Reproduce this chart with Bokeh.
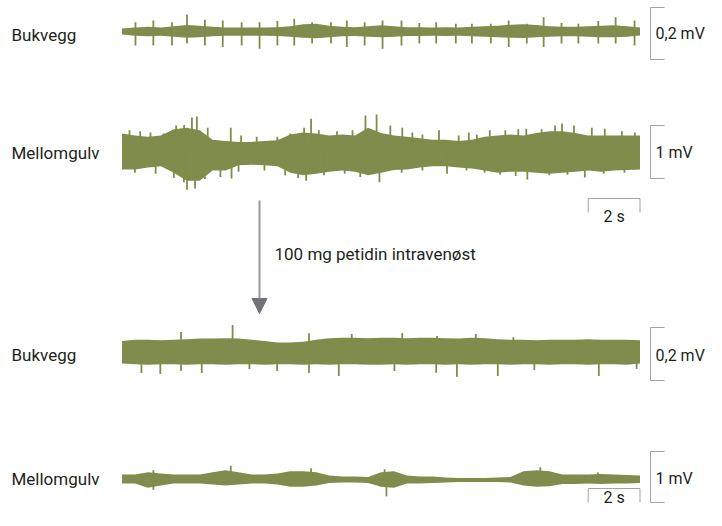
from bokeh.plotting import figure
from bokeh.models import Range1d, Label, Arrow, NormalHead
from bokeh.embed import file_html
from bokeh.resources import INLINE

# ---------------- data ----------------
# envelope sampling times (s)
time_s = [0.0, 0.5, 1.0, 1.5, 2.0, 2.5, 3.0, 3.5, 4.0, 4.5, 5.0, 5.5, 6.0, 6.5,
          7.0, 7.5, 8.0, 8.5, 9.0, 9.5, 10.0, 10.5, 11.0, 11.5, 12.0, 12.5,
          13.0, 13.5, 14.0, 14.5, 15.0, 15.5, 16.0, 16.5, 17.0, 17.5, 18.0,
          18.5, 19.0, 19.5, 20.0]

# Trace 1: Bukvegg, before (mV)
buk1_upper = [0.012, 0.015, 0.018, 0.015, 0.020, 0.025, 0.022, 0.018, 0.015, 0.015,
              0.015, 0.015, 0.016, 0.020, 0.028, 0.030, 0.022, 0.018, 0.016, 0.020,
              0.024, 0.020, 0.016, 0.016, 0.015, 0.016, 0.015, 0.018, 0.020, 0.022,
              0.026, 0.028, 0.025, 0.020, 0.018, 0.018, 0.020, 0.022, 0.024, 0.020, 0.015]
buk1_lower = [-0.012, -0.016, -0.018, -0.016, -0.020, -0.024, -0.022, -0.018, -0.016, -0.016,
              -0.016, -0.016, -0.017, -0.020, -0.024, -0.026, -0.022, -0.018, -0.017, -0.020,
              -0.022, -0.020, -0.017, -0.017, -0.016, -0.017, -0.016, -0.018, -0.020, -0.022,
              -0.024, -0.025, -0.022, -0.020, -0.018, -0.018, -0.020, -0.022, -0.022, -0.020, -0.015]
buk1_spike_t = [0.52, 1.21, 1.93, 2.51, 3.20, 3.89, 4.62, 5.31, 6.00, 6.65, 7.34, 8.07, 8.68,
                9.37, 10.06, 10.79, 11.48, 12.13, 12.89, 13.51, 14.24, 14.93, 15.63, 16.28,
                16.97, 17.62, 18.39, 19.06, 19.79]
buk1_spike_up = [0.036, 0.042, 0.036, 0.065, 0.045, 0.042, 0.036, 0.036, 0.040, 0.049, 0.036,
                 0.036, 0.042, 0.036, 0.042, 0.042, 0.033, 0.036, 0.030, 0.030, 0.030, 0.042,
                 0.030, 0.055, 0.033, 0.030, 0.040, 0.055, 0.042]
buk1_spike_dn = [-0.054, -0.054, -0.054, -0.046, -0.054, -0.060, -0.054, -0.066, -0.054, -0.054,
                 -0.046, -0.046, -0.060, -0.054, -0.066, -0.054, -0.046, -0.046, -0.046, -0.046,
                 -0.046, -0.060, -0.046, -0.060, -0.046, -0.046, -0.046, -0.046, -0.054]

# Trace 2: Mellomgulv, before (mV)
mel1_upper = [0.34, 0.30, 0.28, 0.30, 0.42, 0.45, 0.40, 0.22, 0.20, 0.18, 0.18, 0.20, 0.21,
              0.32, 0.36, 0.34, 0.30, 0.32, 0.30, 0.45, 0.35, 0.30, 0.28, 0.25, 0.22, 0.22,
              0.20, 0.22, 0.28, 0.30, 0.32, 0.30, 0.35, 0.38, 0.38, 0.35, 0.30, 0.30, 0.30,
              0.30, 0.30]
mel1_lower = [-0.34, -0.34, -0.30, -0.28, -0.40, -0.55, -0.55, -0.36, -0.36, -0.26, -0.25,
              -0.26, -0.28, -0.40, -0.45, -0.42, -0.38, -0.36, -0.38, -0.45, -0.40, -0.35,
              -0.34, -0.30, -0.28, -0.28, -0.30, -0.32, -0.36, -0.40, -0.38, -0.38, -0.40,
              -0.42, -0.40, -0.38, -0.36, -0.38, -0.36, -0.35, -0.34]
mel1_up_t = [0.29, 0.7, 1.1, 1.6, 2.09, 2.4, 2.70, 2.89, 3.31, 4.20, 4.6, 5.2, 6.0, 6.5, 7.03,
             7.30, 7.6, 8.3, 8.9, 9.4, 9.83, 10.36, 10.82, 11.21, 11.6, 12.24, 13.0, 13.39,
             13.7, 14.2, 14.8, 15.3, 15.61, 16.2, 16.72, 16.99, 17.45, 18.14, 18.64, 19.3, 19.8]
mel1_up_v = [0.40, 0.38, 0.36, 0.34, 0.49, 0.50, 0.64, 0.66, 0.45, 0.45, 0.30, 0.28, 0.28,
             0.34, 0.45, 0.62, 0.40, 0.38, 0.40, 0.68, 0.70, 0.49, 0.45, 0.36, 0.32, 0.40,
             0.30, 0.36, 0.32, 0.40, 0.40, 0.42, 0.43, 0.42, 0.49, 0.53, 0.49, 0.45, 0.43,
             0.38, 0.36]
mel1_dn_t = [0.5, 1.3, 2.0, 2.39, 2.51, 2.82, 3.2, 3.8, 4.23, 4.5, 5.5, 6.3, 6.8, 7.11, 7.8,
             8.6, 9.2, 9.94, 10.8, 11.6, 12.55, 13.3, 14.0, 14.6, 15.2, 15.65, 16.5, 17.2,
             17.87, 18.6, 19.4]
mel1_dn_v = [-0.40, -0.42, -0.50, -0.58, -0.72, -0.70, -0.52, -0.48, -0.51, -0.38, -0.36,
             -0.45, -0.50, -0.55, -0.45, -0.42, -0.48, -0.58, -0.40, -0.36, -0.42, -0.36,
             -0.40, -0.44, -0.46, -0.53, -0.45, -0.44, -0.49, -0.42, -0.40]

# Trace 3: Bukvegg, after (mV)
buk2_upper = [0.045, 0.050, 0.050, 0.048, 0.050, 0.052, 0.055, 0.055, 0.056, 0.055, 0.050,
              0.045, 0.040, 0.040, 0.042, 0.050, 0.056, 0.058, 0.058, 0.056, 0.058, 0.058,
              0.056, 0.058, 0.058, 0.056, 0.055, 0.058, 0.056, 0.052, 0.050, 0.050, 0.048,
              0.050, 0.050, 0.050, 0.052, 0.050, 0.050, 0.050, 0.048]
buk2_lower = [-0.040, -0.042, -0.044, -0.042, -0.042, -0.044, -0.042, -0.042, -0.044, -0.042,
              -0.042, -0.044, -0.042, -0.042, -0.044, -0.042, -0.044, -0.042, -0.042, -0.044,
              -0.044, -0.042, -0.044, -0.042, -0.042, -0.044, -0.042, -0.044, -0.042, -0.042,
              -0.044, -0.042, -0.042, -0.044, -0.042, -0.042, -0.044, -0.042, -0.042, -0.044,
              -0.040]
buk2_up_t = [2.28, 4.27, 7.22, 8.87, 10.82, 12.16, 13.66, 15.11]
buk2_up_v = [0.079, 0.106, 0.075, 0.072, 0.075, 0.064, 0.072, 0.060]
buk2_dn_t = [0.75, 1.48, 2.28, 3.08, 4.92, 5.99, 7.22, 8.37, 10.52, 12.13, 12.93, 14.51,
             15.92, 18.41, 19.87]
buk2_dn_v = [-0.075, -0.079, -0.068, -0.075, -0.060, -0.068, -0.075, -0.087, -0.068, -0.075,
             -0.090, -0.087, -0.064, -0.087, -0.060]

# Trace 4: Mellomgulv, after (mV)
mel2_upper = [0.10, 0.10, 0.14, 0.12, 0.10, 0.10, 0.10, 0.14, 0.18, 0.14, 0.10, 0.10, 0.12,
              0.16, 0.16, 0.14, 0.08, 0.06, 0.06, 0.05, 0.14, 0.16, 0.08, 0.06, 0.06, 0.04,
              0.03, 0.03, 0.03, 0.04, 0.05, 0.16, 0.18, 0.16, 0.10, 0.10, 0.10, 0.11, 0.10,
              0.09, 0.08]
mel2_lower = [-0.08, -0.08, -0.16, -0.12, -0.08, -0.08, -0.08, -0.10, -0.12, -0.10, -0.08,
              -0.08, -0.10, -0.14, -0.14, -0.12, -0.07, -0.06, -0.06, -0.07, -0.14, -0.16,
              -0.08, -0.08, -0.07, -0.06, -0.05, -0.05, -0.05, -0.05, -0.06, -0.12, -0.14,
              -0.13, -0.09, -0.09, -0.08, -0.09, -0.08, -0.08, -0.07]
mel2_up_t = [1.21, 4.20, 7.30, 10.14, 16.15, 18.37]
mel2_up_v = [0.18, 0.27, 0.22, 0.20, 0.24, 0.14]
mel2_dn_t = [1.21, 10.21]
mel2_dn_v = [-0.20, -0.33]

trace_names = ["Bukvegg", "Mellomgulv", "Bukvegg", "Mellomgulv"]
scale_labels = ["0,2 mV", "1 mV", "0,2 mV", "1 mV"]
scale_values_mv = [0.2, 1.0, 0.2, 1.0]
time_bar_label = "2 s"
time_bar_s = 2.0
annotation_text = "100 mg petidin intravenøst"

# ---------------- layout / style ----------------
W, H = 706, 510
PX_PER_S = 25.9          # horizontal pixels per second
X0_PX = 121.5            # figure pixel of t = 0
TRACE_COLOR = "#7f8c4c"
TEXT_COLOR = "#231f20"
BAR_COLOR = "#a3a3a3"
FONT = "Roboto"
FS = "17px"
FS_SCALE = "16px"


def sx(px):
    """figure pixel -> seconds (for layout elements)"""
    return (px - X0_PX) / PX_PER_S


p = figure(width=W, height=H, output_backend="svg", toolbar_location=None,
           x_range=Range1d(sx(0), sx(W)), y_range=Range1d(H, 0),
           min_border=0, outline_line_color=None)
p.axis.visible = False
p.grid.visible = False
p.background_fill_color = "white"
p.border_fill_color = "white"

# baselines (figure px from top), pixels per mV, label positions
baselines = [31, 151, 352.5, 479]
px_per_mv = [260.0, 53.0, 265.0, 51.0]
bar_centers = [33, 151.5, 353.5, 476.5]
name_y = [34, 152, 354, 478]
scale_label_y = [33, 152, 355, 478]

traces = [
    (buk1_upper, buk1_lower, buk1_spike_t, buk1_spike_up, buk1_spike_t, buk1_spike_dn),
    (mel1_upper, mel1_lower, mel1_up_t, mel1_up_v, mel1_dn_t, mel1_dn_v),
    (buk2_upper, buk2_lower, buk2_up_t, buk2_up_v, buk2_dn_t, buk2_dn_v),
    (mel2_upper, mel2_lower, mel2_up_t, mel2_up_v, mel2_dn_t, mel2_dn_v),
]

for k, (up, lo, ut, uv, dt, dv) in enumerate(traces):
    b, s = baselines[k], px_per_mv[k]
    p.varea(x=time_s, y1=[b - v * s for v in up], y2=[b - v * s for v in lo],
            fill_color=TRACE_COLOR)
    p.segment(x0=ut, y0=[b] * len(ut), x1=ut, y1=[b - v * s for v in uv],
              line_color=TRACE_COLOR, line_width=1.8)
    p.segment(x0=dt, y0=[b] * len(dt), x1=dt, y1=[b - v * s for v in dv],
              line_color=TRACE_COLOR, line_width=1.8)

    # trace name
    p.add_layout(Label(x=sx(11), y=name_y[k], text=trace_names[k], text_font=FONT,
                       text_font_size=FS, text_color=TEXT_COLOR,
                       text_baseline="middle", text_align="left"))

    # amplitude scale bracket
    half = scale_values_mv[k] * s / 2
    c = bar_centers[k]
    xb, xt = sx(650), sx(664)
    p.line(x=[xt, xb, xb, xt], y=[c - half, c - half, c + half, c + half],
           line_color=BAR_COLOR, line_width=1)
    p.add_layout(Label(x=sx(655), y=scale_label_y[k], text=scale_labels[k], text_font=FONT,
                       text_font_size=FS_SCALE, text_color=TEXT_COLOR,
                       text_baseline="middle", text_align="left"))

# time scale bars (2 s), below each Mellomgulv trace
for ybar, ylab in [(198, 216), (488, 497)]:
    t1 = time_s[-1]
    t0 = t1 - time_bar_s
    p.line(x=[t0, t0, t1, t1], y=[ybar + 14, ybar, ybar, ybar + 14],
           line_color=BAR_COLOR, line_width=1)
    p.add_layout(Label(x=(t0 + t1) / 2, y=ylab, text=time_bar_label, text_font=FONT,
                       text_font_size=FS_SCALE, text_color=TEXT_COLOR,
                       text_baseline="middle", text_align="center"))

# arrow with the drug annotation
ax = sx(259)
p.add_layout(Arrow(x_start=ax, y_start=200, x_end=ax, y_end=313,
                   line_color="#9b9b9b", line_width=2,
                   end=NormalHead(size=15, fill_color="#707478", line_color="#707478")))
p.add_layout(Label(x=sx(274), y=253, text=annotation_text, text_font=FONT,
                   text_font_size=FS, text_color=TEXT_COLOR,
                   text_baseline="middle", text_align="left"))

open("out.html", "w").write(file_html(p, INLINE))
